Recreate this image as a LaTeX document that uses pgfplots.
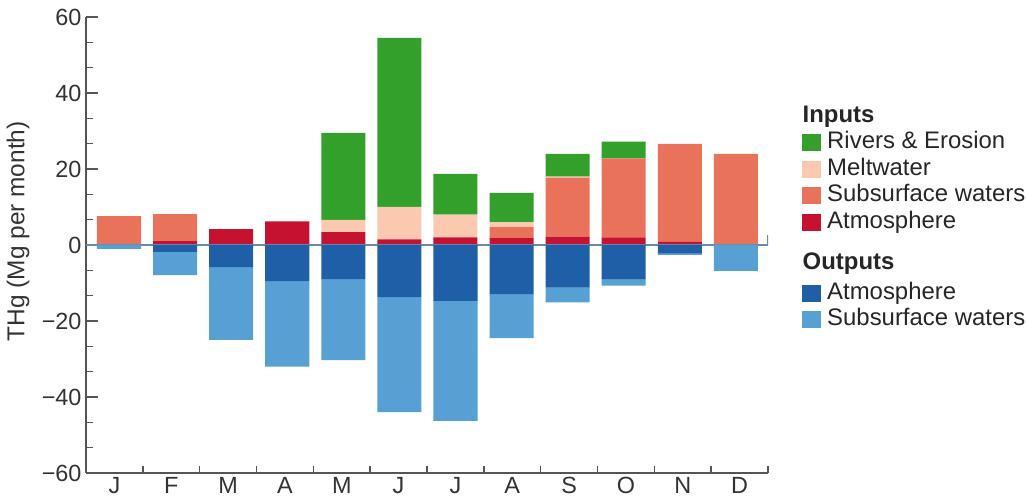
\documentclass[border=0pt]{standalone}
\usepackage{pgfplots}
\pgfplotsset{compat=1.18}
\usepackage{pgfplotstable}
\usepackage{fontspec}
\setmainfont{Liberation Sans}
\definecolor{cgreen}{HTML}{33A02C}
\definecolor{cpeach}{HTML}{FBC9B0}
\definecolor{csalmon}{HTML}{E8735A}
\definecolor{cdred}{HTML}{C41230}
\definecolor{cdblue}{HTML}{1F5FA8}
\definecolor{clblue}{HTML}{56A0D3}
\definecolor{axisgray}{HTML}{555555}
\definecolor{zerocol}{HTML}{6B8BAD}
\definecolor{txt}{HTML}{333333}
\pgfplotstableread{
x      atmin subin melt rivers atmout subout
0.081  0    7.6  0    0     0     -1.0
1.067  1.0  7.1  0    0    -1.8   -6.1
2.054  4.2  0    0    0    -5.8  -19.2
3.041  6.2  0    0    0    -9.5  -22.5
4.028  3.4  0    3.2  22.9 -9.0  -21.3
5.014  1.5  0    8.5  44.5 -13.7 -30.3
6.001  2.0  0    6.0  10.7 -14.7 -31.6
6.988  1.8  2.9  1.3  7.7  -12.9 -11.6
7.974  2.2  15.5 0.3  6.0  -11.2  -3.9
8.961  2.0  20.8 0    4.4  -9.0   -1.7
9.948  0.8  25.8 0    0    -2.3   -0.3
10.934 0    24.0 0    0     0     -6.8
}\datatab
\begin{document}
\begin{tikzpicture}
\path[use as bounding box] (-86bp,-27bp) rectangle (940bp,473bp);
\begin{axis}[
  scale only axis, width=682bp, height=456bp,
  xmin=-0.5, xmax=11.5, ymin=-60, ymax=60,
  axis lines*=left,
  axis line style={draw=axisgray, line width=1.6bp},
  ybar stacked, bar width=0.775,
  xtick={0,...,11}, xticklabels={J,F,M,A,M,J,J,A,S,O,N,D},
  minor xtick={0.5,1.5,...,11.5},
  ytick={-60,-40,...,60}, yticklabels={−60,−40,−20,0,20,40,60},
  minor y tick num=2,
  tick align=inside,
  major tick length=12bp, minor tick length=7bp,
  tick style={draw=axisgray, line width=1.4bp},
  major x tick style={draw=none},
  ticklabel style={font=\fontsize{23.5}{27}\selectfont, text=txt},
  /pgf/number format/assume math mode=true,
  yticklabel style={xshift=-1bp},
  xticklabel style={yshift=-1bp},
  ylabel={THg (Mg per month)},
  ylabel style={font=\fontsize{24.5}{28}\selectfont, text=txt, at={(axis description cs:-0.0997,0.53)}, anchor=center},
  legend image code/.code={\fill[#1] (0bp,-8.5bp) rectangle (19bp,8.5bp);},
  legend style={at={(axis description cs:1.0499,0.807)}, anchor=north west,
    draw=none, fill=none, inner sep=0pt,
    font=\fontsize{24}{28}\selectfont, text=black!85,
    row sep=4.5bp, column sep=6bp,
    nodes={inner sep=0pt, text height=17bp, text depth=5bp}},
  legend cell align=left,
]
\addplot[fill=cdred, draw=none, forget plot] table[x=x, y=atmin] {\datatab};
\addplot[fill=csalmon, draw=none, forget plot] table[x=x, y=subin] {\datatab};
\addplot[fill=cpeach, draw=none, forget plot] table[x=x, y=melt] {\datatab};
\addplot[fill=cgreen, draw=none, forget plot] table[x=x, y=rivers] {\datatab};
\addlegendimage{empty legend}
\addlegendentry{\makebox[0pt][l]{\hspace*{-25bp}\textbf{Inputs}}}
\addlegendimage{fill=cgreen, draw=none}
\addlegendentry{Rivers \& Erosion}
\addlegendimage{fill=cpeach, draw=none}
\addlegendentry{Meltwater}
\addlegendimage{fill=csalmon, draw=none}
\addlegendentry{Subsurface waters}
\addlegendimage{fill=cdred, draw=none}
\addlegendentry{Atmosphere}
\addlegendimage{empty legend}
\addlegendentry[text height=31.5bp, text depth=8.5bp]{\makebox[0pt][l]{\hspace*{-25bp}\textbf{Outputs}}}
\addlegendimage{fill=cdblue, draw=none}
\addlegendentry{Atmosphere}
\addlegendimage{fill=clblue, draw=none}
\addlegendentry{Subsurface waters}
\end{axis}
\begin{axis}[
  scale only axis, width=682bp, height=456bp,
  xmin=-0.5, xmax=11.5, ymin=-60, ymax=60,
  hide axis,
  ybar stacked, bar width=0.775,
]
\addplot[fill=cdblue, draw=none] table[x=x, y=atmout] {\datatab};
\addplot[fill=clblue, draw=none] table[x=x, y=subout] {\datatab};
\draw[zerocol, line width=2.2bp] (axis cs:-0.5,0) -- (axis cs:11.5,0) -- (axis cs:11.5,2.6);
\end{axis}
\end{tikzpicture}
\end{document}
